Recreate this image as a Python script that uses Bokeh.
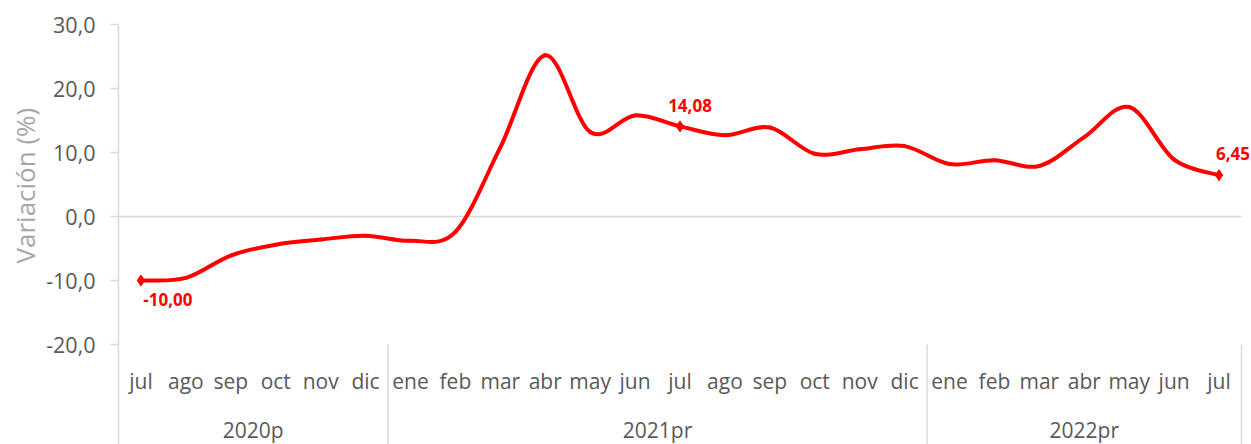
import math
from bokeh.plotting import figure
from bokeh.models import ColumnDataSource, Range1d, FixedTicker, CustomJSTickFormatter, LabelSet, Title
from bokeh.core.properties import value
from bokeh.embed import file_html
from bokeh.resources import INLINE

# ---------------- data ----------------
years = ["2020p"] * 6 + ["2021pr"] * 12 + ["2022pr"] * 7
months = ["jul", "ago", "sep", "oct", "nov", "dic",
          "ene", "feb", "mar", "abr", "may", "jun", "jul", "ago", "sep", "oct", "nov", "dic",
          "ene", "feb", "mar", "abr", "may", "jun", "jul"]
variacion = [-10.00, -9.6, -6.1, -4.4, -3.6, -3.0,
             -3.8, -2.4, 10.8, 25.2, 13.2, 15.8, 14.08, 12.7, 13.9, 9.8, 10.5, 11.0,
             8.2, 8.8, 7.9, 12.4, 17.1, 8.9, 6.45]
labelled = [0, 12, 24]          # points carrying a data label
y_ticks = [-20, -10, 0, 10, 20, 30]

FONT = "Open Sans"
GREY = "#595959"
LINE = "#d9d9d9"
RED = "#ff0000"

n = len(variacion)
xs = list(range(n))

# smooth (Catmull-Rom style) bezier segments through the data points
xe = [xs[0]] + xs + [xs[-1]]
ye = [variacion[0]] + variacion + [variacion[-1]]
seg = dict(
    x0=xs[:-1], y0=variacion[:-1], x1=xs[1:], y1=variacion[1:],
    cx0=[xe[i + 1] + (xe[i + 2] - xe[i]) / 6 for i in range(n - 1)],
    cy0=[ye[i + 1] + (ye[i + 2] - ye[i]) / 6 for i in range(n - 1)],
    cx1=[xe[i + 2] - (xe[i + 3] - xe[i + 1]) / 6 for i in range(n - 1)],
    cy1=[ye[i + 2] - (ye[i + 3] - ye[i + 1]) / 6 for i in range(n - 1)],
)

W, H = 1251, 444
LEFT, TOP = 118, 24
PX_X = 44.92           # pixels per category
PX_Y = 6.4             # pixels per unit
x_end = -0.5 + (W - LEFT) / PX_X
y_bottom = 30 - (H - TOP) / PX_Y

p = figure(width=W, height=H,
           x_range=Range1d(-0.5, x_end), y_range=Range1d(y_bottom, 30),
           output_backend="svg", toolbar_location=None, x_axis_type=None,
           min_border_left=LEFT, min_border_right=0, min_border_top=TOP, min_border_bottom=0)
p.outline_line_color = None
p.grid.grid_line_color = None
p.background_fill_color = "white"

# y axis
ax = p.yaxis[0]
ax.ticker = FixedTicker(ticks=y_ticks, minor_ticks=[])
ax.formatter = CustomJSTickFormatter(code="return tick.toFixed(1).replace('.', ',');")
ax.major_label_text_font = FONT
ax.major_label_text_font_size = "21.5px"
ax.major_label_text_color = GREY
ax.major_label_standoff = 15
ax.axis_line_color = LINE
ax.axis_line_width = 1.5
ax.major_tick_line_color = LINE
ax.major_tick_line_width = 1.5
ax.major_tick_out = 8
ax.major_tick_in = 0
ax.minor_tick_line_color = None

# axis title, centred on the value scale (starts at -10 region, reads upward)
p.add_layout(Title(text="Variación (%)", align="left", offset=H - 263,
                   text_font=FONT, text_font_size="26px", text_font_style="normal",
                   text_color="#a6a6a6", standoff=2), "left")

# zero line
p.segment(x0=-0.5, y0=0, x1=n - 0.5, y1=0, line_color=LINE, line_width=1.5)

# group dividers
bounds = [i + 0.5 for i in range(n - 1) if years[i] != years[i + 1]] + [n - 0.5]
p.segment(x0=bounds, y0=-20, x1=bounds, y1=y_bottom, line_color=LINE, line_width=1.5)

# month labels
p.text(x=xs, y=-25.7, text=months, text_align="center", text_baseline="alphabetic",
       text_font=value(FONT), text_font_size="21px", text_color=GREY)

# year labels
ylabels = list(dict.fromkeys(years))
ycenters = [sum(i for i in xs if years[i] == yl) / years.count(yl) for yl in ylabels]
p.text(x=ycenters, y=-33.3, text=ylabels, text_align="center", text_baseline="alphabetic",
       text_font=value(FONT), text_font_size="21px", text_color=GREY)

# the series
p.bezier(source=ColumnDataSource(seg), x0="x0", y0="y0", x1="x1", y1="y1",
         cx0="cx0", cy0="cy0", cx1="cx1", cy1="cy1",
         line_color=RED, line_width=4, line_cap="round")

lab = ColumnDataSource(dict(
    x=[xs[i] for i in labelled],
    y=[variacion[i] for i in labelled],
    t=[f"{variacion[i]:.2f}".replace(".", ",") for i in labelled],
    dx=[27, 10, 14],
    dy=[-19, 21, 22],
))
p.scatter("x", "y", source=lab, marker="diamond", size=11, color=RED)
p.add_layout(LabelSet(x="x", y="y", text="t", source=lab, x_offset="dx", y_offset="dy",
                      text_align="center", text_baseline="middle",
                      text_font=value(FONT), text_font_size="17px",
                      text_font_style="bold", text_color=RED))

open("out.html", "w").write(file_html(p, INLINE))
